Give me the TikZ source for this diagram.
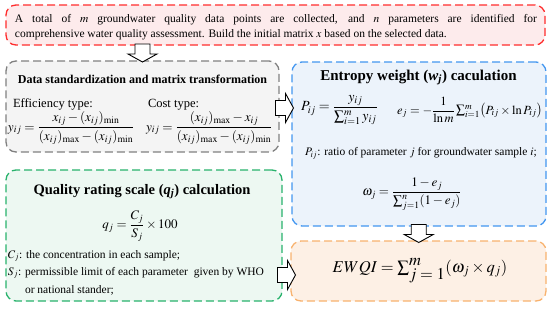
\documentclass[tikz,border=0pt]{standalone}
\usepackage{amsmath}
\usepackage[no-math]{fontspec}
\usepackage{mathptmx}
\setmainfont{Liberation Serif}
\usetikzlibrary{calc}
\definecolor{linered}{RGB}{255,45,45}
\definecolor{fillred}{RGB}{253,235,236}
\definecolor{linegray}{RGB}{128,128,128}
\definecolor{fillgray}{RGB}{244,244,244}
\definecolor{lineblue}{RGB}{66,150,240}
\definecolor{fillblue}{RGB}{236,243,251}
\definecolor{linegreen}{RGB}{40,178,108}
\definecolor{fillgreen}{RGB}{237,248,242}
\definecolor{lineorange}{RGB}{248,178,110}
\definecolor{fillorange}{RGB}{253,240,229}
\newcommand{\bodysize}{\fontsize{11.5}{14}\selectfont}
\newcommand{\eqsize}{\fontsize{13}{15}\selectfont}

\begin{document}
\begin{tikzpicture}[x=1pt, y=-1pt, inner sep=0pt, outer sep=0pt,
		every node/.append style={font=\bodysize},
		stepbox/.style={line width=1.3pt, dash pattern=on 8pt off 4pt, rounded corners=10pt, anchor=north west},
		blockarrow/.pic={\path[draw=black,fill=white,line width=0.9pt] (-9,-7.5) -- (1,-7.5) -- (1,-14.5) -- (9,0)
			-- (1,14.5) -- (1,7.5) -- (-9,7.5) -- cycle;}]
			\useasboundingbox (0,0) rectangle (550,309);
			% boxes
			\node[stepbox,draw=linered,fill=fillred,minimum width=539pt,minimum height=40pt] (box1) at (6,5){};
			\node[stepbox,draw=linegray,fill=fillgray,minimum width=273pt,minimum height=91pt] (box2) at (6,61){};
			\node[stepbox,draw=lineblue,fill=fillblue,minimum width=254pt,minimum height=164pt] (box3) at (292,62){};
			\node[stepbox,draw=linegreen,fill=fillgreen,minimum width=276pt,minimum height=131pt] (box4) at (6,170){};
			\node[stepbox,draw=lineorange,fill=fillorange,minimum width=255pt,minimum height=60pt] (box5) at (291,241){};
			% arrows
			\pic[rotate=-90] (arrow1) at ($(box1.south -| box2.north)!0.5!(box2.north)$){blockarrow};
			\pic (arrow2) at ($(box2.east)!0.5!(box2.east -| box3.west)+(-1,1.5)$){blockarrow};
			\pic[rotate=-90] (arrow3) at ($(box3.south)!0.5!(box5.north)$){blockarrow};
			\pic (arrow4) at ($(box4.east |- box5.west)!0.5!(box5.west)+(0,4)$){blockarrow};
			% input data
			\node[anchor=base west] (text1) at (15,22){\makebox[522pt][s]{A total of $m$ groundwater quality data points are collected, and $n$ parameters are identified for}};
			\node[anchor=base west] (text2) at (15,37){comprehensive water quality assessment. Build the initial matrix $x$ based on the selected data.};
			% standardization
			\node[anchor=base] (text3) at (142.5,83){\fontsize{12}{14}\selectfont\bfseries Data standardization and matrix transformation};
			\node[anchor=base west] (text4) at (13,107){\fontsize{12.5}{14}\selectfont Efficiency type:};
			\node[anchor=base west] (text5) at (148,107){\fontsize{12.5}{14}\selectfont Cost type:};
			\node[anchor=west] (eq1) at (8,128){\fontsize{13.2}{15}\selectfont$y_{ij}=\dfrac{x_{ij}-(x_{ij})_{\min}}{(x_{ij})_{\max}-(x_{ij})_{\min}}$};
			\node[anchor=west] (eq2) at (146,128){\fontsize{13.2}{15}\selectfont$y_{ij}=\dfrac{(x_{ij})_{\max}-x_{ij}}{(x_{ij})_{\max}-(x_{ij})_{\min}}$};
			% entropy weight
			\node[anchor=base] (text6) at (418.5,80){\fontsize{15}{17}\selectfont\bfseries Entropy weight ({\itshape w}\textsubscript{\itshape j}) caculation};
			\node[anchor=west] (eq3) at (301,110){\fontsize{14}{16}\selectfont$P_{ij}=\dfrac{y_{ij}}{\sum\nolimits_{i=1}^{m}y_{ij}}$};
			\node[anchor=west] (eq4) at (397,110){\fontsize{12.5}{14}\selectfont$e_j=-\dfrac{1}{\ln m}\sum\nolimits_{i=1}^{m}\bigl(P_{ij}\times\ln P_{ij}\bigr)$};
			\node[anchor=base west] (text7) at (305,155.5){$P_{ij}$: ratio of parameter $j$ for groundwater sample $i$;};
			\node[anchor=center] (eq5) at (412,194){\eqsize$\omega_j=\dfrac{1-e_j}{\sum\nolimits_{j=1}^{n}(1-e_j)}$};
			% quality rating
			\node[anchor=base] (text8) at (142,194){\fontsize{14.5}{17}\selectfont\bfseries Quality rating scale ({\itshape q}\textsubscript{\itshape j}) calculation};
			\node[anchor=center] (eq6) at (140,226){\eqsize$q_j=\dfrac{C_j}{S_j}\times 100$};
			\node[anchor=base west] (text9) at (8,258){$C_j$: the concentration in each sample;};
			\node[anchor=base west] (text10) at (8,275){$S_j$: permissible limit of each parameter\ \ given by WHO};
			\node[anchor=base west] (text11) at (25,293){or national stander;};
			% EWQI
			\node[anchor=center] (eq7) at (420,271){\fontsize{16.5}{19}\selectfont$EWQI=\sum\nolimits_{\textstyle j=1}^{\textstyle m}(\omega_j\times q_j)$};
		\end{tikzpicture}
\end{document}
